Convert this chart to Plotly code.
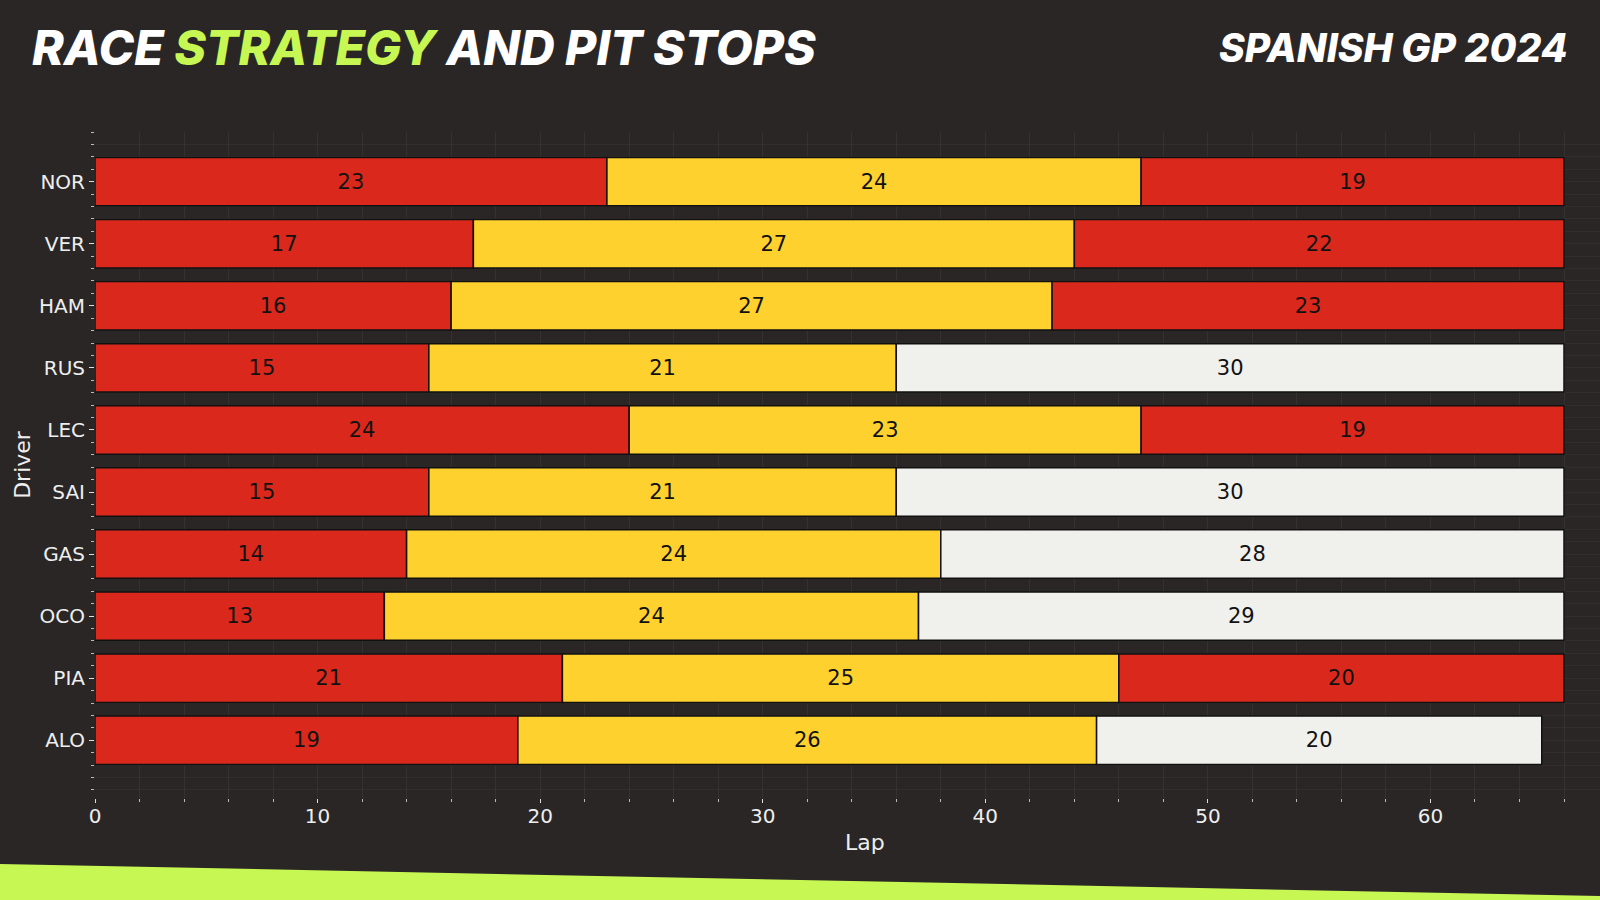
import plotly.graph_objects as go

drivers = ["NOR", "VER", "HAM", "RUS", "LEC", "SAI", "GAS", "OCO", "PIA", "ALO"]
stint1 = [23, 17, 16, 15, 24, 15, 14, 13, 21, 19]
stint2 = [24, 27, 27, 21, 23, 21, 24, 24, 25, 26]
stint3 = [19, 22, 23, 30, 19, 30, 28, 29, 20, 20]
compound1 = ["SOFT"] * 10
compound2 = ["MEDIUM"] * 10
compound3 = ["SOFT", "SOFT", "SOFT", "HARD", "SOFT", "HARD", "HARD", "HARD", "SOFT", "HARD"]
x_ticks = [0, 10, 20, 30, 40, 50, 60]
total_laps = 66

COLORS = {"SOFT": "#da291c", "MEDIUM": "#ffd12e", "HARD": "#f0f0ec"}
BG = "#2a2626"
GREEN = "#c6f752"
FIG_W, FIG_H = 1600, 900
ML, MR, MT, MB = 95, 0, 132, 102
LAP_END_PX = 1564  # pixel where lap 66 sits

ypos = list(range(len(drivers)))
fig = go.Figure()
bases = [0] * len(drivers)
for lengths, comps in [(stint1, compound1), (stint2, compound2), (stint3, compound3)]:
    fig.add_trace(go.Bar(
        y=ypos, x=lengths, base=bases[:], orientation="h", width=0.78,
        marker=dict(color=[COLORS[c] for c in comps], line=dict(color="#111111", width=1.5)),
        text=[str(v) for v in lengths], textposition="inside", insidetextanchor="middle",
        textfont=dict(family="DejaVu Sans", size=21, color="#111111"),
        constraintext="none", showlegend=False, hoverinfo="skip",
    ))
    bases = [b + l for b, l in zip(bases, lengths)]

plot_w = FIG_W - ML - MR
plot_h = FIG_H - MT - MB
x_max = total_laps * plot_w / (LAP_END_PX - ML)

def px(xp):
    return (xp - ML) / plot_w
def py(yp):
    return (FIG_H - MB - yp) / plot_h

stripe = "M {},{} L {},{} L {},{} L {},{} Z".format(
    px(0), py(864), px(1600), py(896), px(1600), py(900), px(0), py(900))

fig.update_layout(
    width=FIG_W, height=FIG_H,
    margin=dict(l=ML, r=MR, t=MT, b=MB),
    paper_bgcolor=BG, plot_bgcolor=BG,
    barmode="overlay", bargap=0.2,
    font=dict(family="DejaVu Sans", color="#eeeeee"),
    xaxis=dict(
        range=[0, x_max], tickvals=x_ticks, ticks="outside", ticklen=4, tickcolor="#dddddd",
        tickfont=dict(size=20, color="#eeeeee"), showline=False, zeroline=False,
        showgrid=False, ticklabelstandoff=-4,
        minor=dict(dtick=2, tick0=0, ticks="outside", ticklen=3, tickcolor="#bbbbbb",
                   showgrid=True, gridcolor="rgba(255,255,255,0.05)", gridwidth=1),
    ),
    yaxis=dict(
        range=[len(drivers) - 1 + 0.93, -0.8], tickvals=ypos, ticktext=drivers,
        ticks="outside", ticklen=5, tickcolor="#dddddd",
        tickfont=dict(size=20, color="#eeeeee"), showline=False, zeroline=False,
        showgrid=False,
        minor=dict(dtick=0.2, tick0=0, ticks="outside", ticklen=3, tickcolor="#bbbbbb",
                   showgrid=True, gridcolor="rgba(255,255,255,0.04)", gridwidth=1),
        title=dict(text="Driver", font=dict(size=22, color="#eeeeee"), standoff=2),
    ),
    shapes=[dict(type="path", xref="paper", yref="paper", path=stripe,
                 fillcolor=GREEN, line=dict(width=0), layer="above")],
    annotations=[
        dict(text="RACE <span style='color:%s'>STRATEGY</span> AND PIT STOPS" % GREEN,
             xref="paper", yref="paper", x=px(30), y=py(47), xanchor="left", yanchor="middle",
             showarrow=False,
             font=dict(family="Inter", size=48, color="#ffffff", weight=800, style="italic")),
        dict(text="SPANISH GP 2024",
             xref="paper", yref="paper", x=px(1570), y=py(47), xanchor="right", yanchor="middle",
             showarrow=False,
             font=dict(family="Inter", size=39, color="#ffffff", weight=800, style="italic")),
        dict(text="Lap", xref="paper", yref="paper", x=px(865), y=py(842),
             xanchor="center", yanchor="middle", showarrow=False,
             font=dict(family="DejaVu Sans", size=22, color="#eeeeee")),
    ],
)

fig.write_html(
    "out.html",
    config={"displayModeBar": False},
    post_script="document.body.style.margin='0';document.body.style.background='%s';" % BG,
)
